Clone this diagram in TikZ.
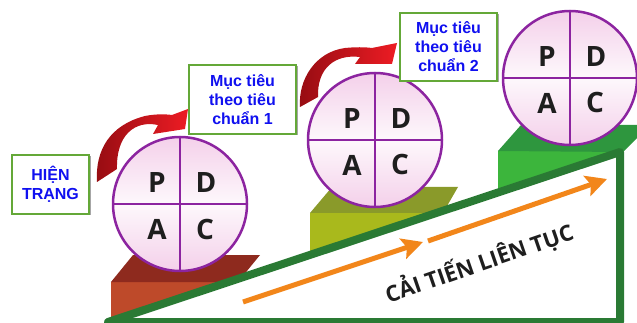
\documentclass[tikz,border=0pt]{standalone}
\usepackage{fontspec}
\setmainfont{Liberation Sans}
\newfontfamily\osans{Open Sans}
\usetikzlibrary{arrows.meta,shadows}
\definecolor{brtop}{RGB}{142,42,30}
\definecolor{brfront}{RGB}{190,74,42}
\definecolor{oltop}{RGB}{138,154,42}
\definecolor{olfront}{RGB}{169,185,28}
\definecolor{grtop}{RGB}{46,150,62}
\definecolor{grfront}{RGB}{60,181,60}
\definecolor{tri}{RGB}{42,122,52}
\definecolor{org}{RGB}{242,134,26}
\definecolor{dred}{RGB}{150,12,18}
\definecolor{bred}{RGB}{237,28,36}
\definecolor{purp}{RGB}{140,36,160}
\definecolor{pinkc}{RGB}{244,208,234}
\definecolor{boxg}{RGB}{100,168,56}
\definecolor{txtb}{RGB}{16,16,240}
\definecolor{ink}{RGB}{30,30,30}
\tikzset{
  pdca/.style={circle, minimum size=134pt, inner sep=0pt, outer sep=0pt, draw=purp, line width=2.5pt,
    top color=pinkc, bottom color=pinkc, middle color=pinkc!15},
  quad/.style={purp, line width=2.5pt},
  ltr/.style={inner sep=0pt, text=ink, font=\osans\bfseries\fontsize{28}{28}\selectfont},
  tbox/.style={draw=boxg, line width=2.5pt, fill=white, align=center, inner sep=0pt, text=txtb,
    font=\bfseries\fontsize{16}{19}\selectfont,
    drop shadow={shadow xshift=1.5pt, shadow yshift=-1.5pt, opacity=0.35, fill=black}},
  orarrow/.style={org, line width=5pt, -{Stealth[length=21pt,width=21pt,inset=4pt]}},
  redarrow/.style={left color=dred, middle color=bred, right color=bred},
}
\begin{document}
\begin{tikzpicture}[x=1pt,y=-1pt]
\useasboundingbox (0,0) rectangle (637,323);
\clip (0,0) rectangle (637,323);
% platforms
\fill[brfront] (111,282) rectangle (240,330);
\fill[brtop] (111,282) -- (133,255) -- (260,255) -- (238,282) -- cycle;
\fill[olfront] (310,213) rectangle (445,280);
\fill[oltop] (310,213) -- (332,187) -- (458,187) -- (443,213) -- cycle;
\fill[grfront] (498,151) rectangle (623,250);
\fill[grtop] (498,151) -- (521,125) -- (650,125) -- (623,152) -- cycle;
% slope triangle
\draw[tri, line width=8pt, fill=white, line join=round] (108,322) -- (620,152) -- (620,322) -- cycle;
% orange arrows
\coordinate (o1s) at (243,302);
\coordinate (o1e) at (423,242);
\coordinate (o2s) at (428,241);
\coordinate (o2e) at (607,179);
\draw[orarrow] (o1s) -- (o1e);
\draw[orarrow] (o2s) -- (o2e);
\node[rotate=19, text=ink, font=\osans\bfseries\fontsize{22}{22}\selectfont] (slope) at (479,263) {CẢI TIẾN LIÊN TỤC};
% red curved arrows
\shade[redarrow] (97,182) .. controls (95,150) and (110,125) .. (145,116) .. controls (155,114) and (165,114) .. (172,115)
  -- (188,109) -- (185,129) -- (153,134) -- (158,125) .. controls (135,120) and (116,135) .. (117,169) -- cycle;
\shade[redarrow] (300,107) .. controls (298,80) and (315,52) .. (345,48) .. controls (355,47) and (365,47) .. (372,48)
  -- (397,43) -- (392,64) -- (355,64) -- (360,57) .. controls (335,54) and (317,68) .. (318,97) -- cycle;
% PDCA circles
\foreach \n/\x/\y in {c1/180/204, c2/375/140, c3/570/78} {
  \node[pdca] (\n) at (\x,\y) {};
  \draw[quad] (\n.north) -- (\n.south);
  \draw[quad] (\n.west) -- (\n.east);
  \node[ltr] at ([shift={(-23,-21)}]\n) {P};
  \node[ltr] at ([shift={(26,-21)}]\n) {D};
  \node[ltr] at ([shift={(-23,25)}]\n) {A};
  \node[ltr] at ([shift={(25,25)}]\n) {C};
}
% text boxes
\node[tbox, minimum width=77pt, minimum height=59pt] (ht) at (50.5,184.5) {HIỆN\\TRẠNG};
\node[tbox, minimum width=107pt, minimum height=69pt] (mt1) at (242.5,99.5) {Mục tiêu\\theo tiêu\\chuẩn 1};
\node[tbox, minimum width=97pt, minimum height=68pt] (mt2) at (448.5,47) {Mục tiêu\\theo tiêu\\chuẩn 2};
\end{tikzpicture}
\end{document}
